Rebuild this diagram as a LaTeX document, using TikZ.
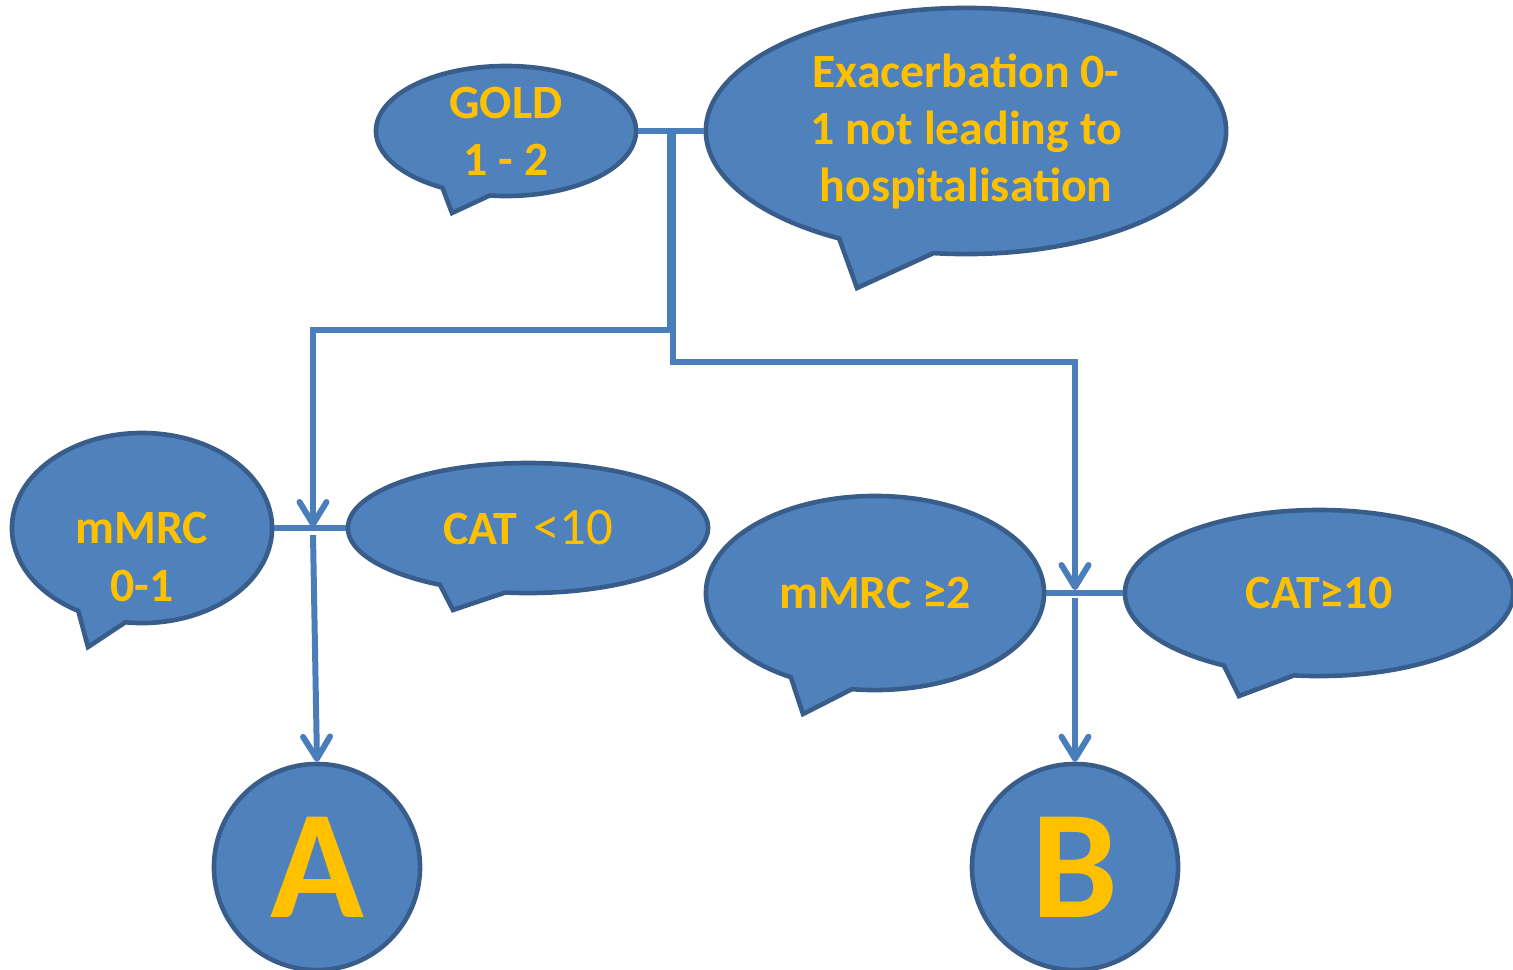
\documentclass[tikz,border=0pt]{standalone}
\usepackage{fontspec}
\setmainfont{Carlito}
\usepackage{tikz}
\usetikzlibrary{shapes.callouts}
\usetikzlibrary{arrows.meta}

\definecolor{bubblefill}{HTML}{4F81BD}
\definecolor{bubbleedge}{HTML}{385D8A}
\definecolor{linkblue}{HTML}{4A7EBB}
\definecolor{labelgold}{HTML}{FFC000}

\tikzset{
  bubble/.style={ellipse callout, fill=bubblefill, draw=bubbleedge, line width=1.3pt,
    inner sep=0pt, text=labelgold, font=\bfseries\fontsize{13.6}{16.2}\selectfont,
    align=center, callout pointer arc=22},
  bubbletext/.style={text=labelgold, font=\bfseries\fontsize{13.6}{16.6}\selectfont,
    align=center, inner sep=0pt},
  grade/.style={circle, fill=bubblefill, draw=bubbleedge, line width=1.3pt,
    minimum size=2.06cm, inner sep=0pt, text=labelgold,
    font=\bfseries\fontsize{44}{44}\selectfont},
  link/.style={draw=linkblue, line width=1.7pt},
  flow/.style={link, -{Straight Barb[length=0.22cm,width=0.27cm,round]}},
}

\begin{document}
\begin{tikzpicture}[x=0.01cm, y=-0.01cm]
    \useasboundingbox (0,0) rectangle (1513,969);

    \node[bubble, minimum width=2.6cm, minimum height=1.3cm,
      callout absolute pointer={(452,213)}] (gold) at (506,131) {GOLD\\1 - 2};
    \node[bubble, minimum width=5.2cm, minimum height=2.46cm,
      callout absolute pointer={(857,288)}] (exac) at (966,131)
      {Exacerbation 0-\\1 not leading to\\hospitalisation};

    \node[bubble, minimum width=2.6cm, minimum height=1.9cm,
      callout absolute pointer={(88,647)}] (mmrc1) at (142,528) {};
    \node[bubbletext] (mmrc1txt) at (142,557) {mMRC\\0-1};
    \node[bubble, minimum width=3.6cm, minimum height=1.3cm,
      callout absolute pointer={(453,610)}] (cat1) at (528,528)
      {CAT\,\,{\mdseries\fontsize{15}{16}\selectfont <10}};

    \node[bubble, minimum width=3.38cm, minimum height=1.94cm,
      callout absolute pointer={(803,714)}] (mmrc2) at (875,593) {mMRC ≥2};
    \node[bubble, minimum width=3.88cm, minimum height=1.66cm,
      callout absolute pointer={(1239,696)}] (cat2) at (1319,593) {CAT≥10};

    \node[grade] (a) at (317,867) {A};
    \node[grade] (b) at (1075,867) {B};

    \coordinate (stemA) at (670,131);
    \coordinate (stemB) at (673,131);
    \coordinate (hitA) at (313,527);
    \coordinate (hitB) at (1075,590);
    \coordinate (outA) at (313,535);
    \coordinate (outB) at (1075,598);

    \draw[link] (gold.east) -- (exac.west);
    \draw[flow] (stemA) -- ++(0,199) -| (hitA);
    \draw[flow] (stemB) -- ++(0,231) -| (hitB);
    \draw[link] (mmrc1.east) -- (cat1.west);
    \draw[link] (mmrc2.east) -- (cat2.west);
    \draw[flow] (outA) -- (a.north);
    \draw[flow] (outB) -- (b.north);
\end{tikzpicture}
\end{document}
